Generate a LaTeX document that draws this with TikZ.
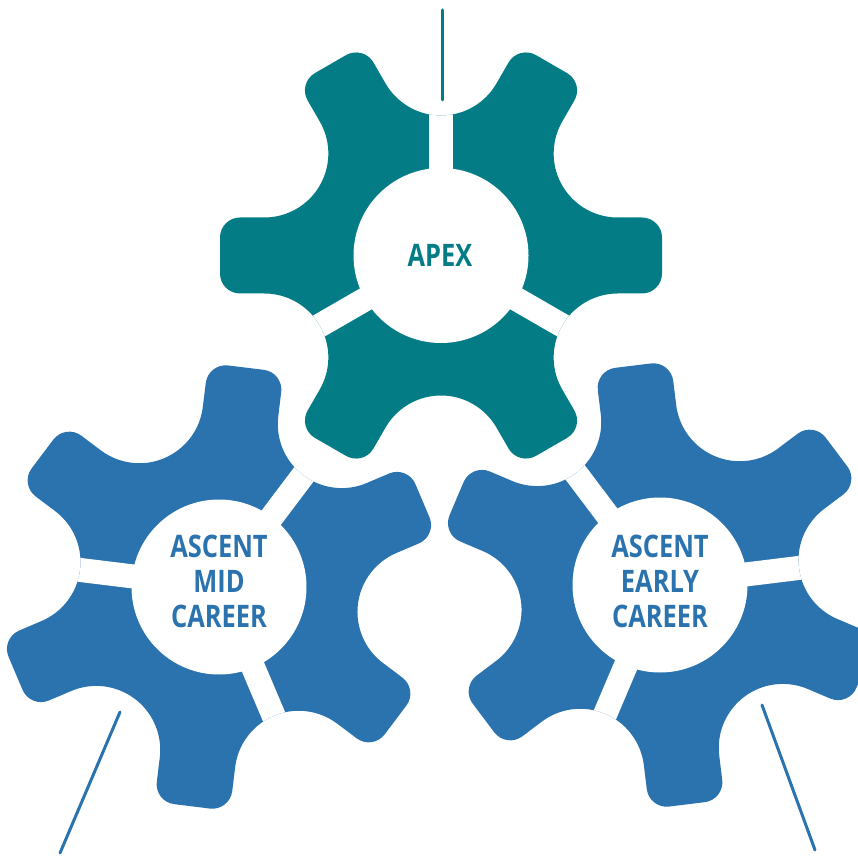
\documentclass[tikz,border=0pt]{standalone}
\usepackage{fontspec}
\newfontfamily\labelfont{Open Sans}[FakeStretch=0.82]
\definecolor{apexteal}{RGB}{4,124,134}
\definecolor{ascentblue}{RGB}{43,115,174}
% gear outline: centre (#1,#2), teeth at #3+60k
\newcommand\gearoutline[3]{([shift={(#1,#2)},rotate=#3]176.67,-38)
  foreach \k in {0,...,5}{
    -- ([shift={(#1,#2)},rotate=#3+60*\k]201,-38)
    arc[start angle=#3+60*\k-90, end angle=#3+60*\k, radius=20pt]
    -- ([shift={(#1,#2)},rotate=#3+60*\k]221,18)
    arc[start angle=#3+60*\k, end angle=#3+60*\k+90, radius=20pt]
    -- ([shift={(#1,#2)},rotate=#3+60*\k]176.67,38)
    arc[start angle=#3+60*\k-90, end angle=#3+60*\k-210, radius=64pt]
  } -- cycle}
\newcommand\drawgear[4]{%
  \fill[#4] \gearoutline{#1}{#2}{#3};
  \begin{scope}
    \clip \gearoutline{#1}{#2}{#3};
    \fill[white] (#1,#2) circle[radius=87.5pt];
    \foreach \g in {90,210,330}{
      \fill[white, rotate around={#3+\g:(#1,#2)}] (#1,#2-12) rectangle (#1+180,#2+12);
    }
  \end{scope}}
\begin{document}
\begin{tikzpicture}[x=1pt,y=1pt,
  labeltext/.style={font=\labelfont\bfseries\fontsize{31}{35}\selectfont, align=center, inner sep=0pt},
  connector/.style={line width=3pt, line cap=round}]
\useasboundingbox (0,0) rectangle (858,855);
\drawgear{441}{599.5}{0}{apexteal}
\drawgear{219}{268}{-37}{ascentblue}
\drawgear{660}{270}{37}{ascentblue}
\node[labeltext, text=apexteal] (apex) at (440,599.5) {APEX};
\node[labeltext, text=ascentblue] (mid) at (219,274) {ASCENT\\MID\\CAREER};
\node[labeltext, text=ascentblue] (early) at (660,274) {ASCENT\\EARLY\\CAREER};
\coordinate (topA) at (442,845);
\coordinate (topB) at (442,755);
\coordinate (leftA) at (120,143);
\coordinate (leftB) at (60,2);
\coordinate (rightA) at (762,150);
\coordinate (rightB) at (815,5);
\draw[connector, apexteal] (topA) -- (topB);
\draw[connector, ascentblue] (leftA) -- (leftB);
\draw[connector, ascentblue] (rightA) -- (rightB);
\end{tikzpicture}
\end{document}
